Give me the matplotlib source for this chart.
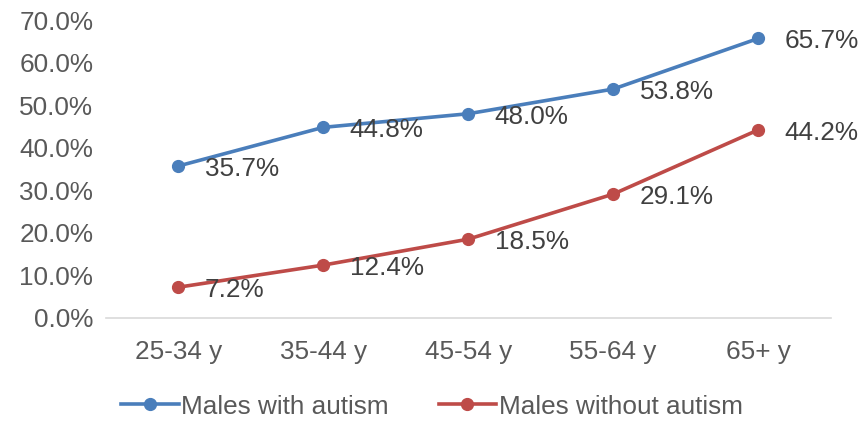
import matplotlib.pyplot as plt
from matplotlib.ticker import PercentFormatter

plt.rcParams['font.family'] = ['Liberation Sans', 'DejaVu Sans']

age_groups = ['25-34 y', '35-44 y', '45-54 y', '55-64 y', '65+ y']
with_autism = [35.7, 44.8, 48.0, 53.8, 65.7]
without_autism = [7.2, 12.4, 18.5, 29.1, 44.2]

blue = '#4A7EBB'
red = '#BE4B48'
fs = 18.8

fig = plt.figure(figsize=(8.59, 4.21), dpi=100)
ax = fig.add_axes([0.123, 0.245, 0.844, 0.707])

x = range(len(age_groups))
ax.plot(x, with_autism, color=blue, lw=2.6, marker='o', ms=8.5,
        label='Males with autism')
ax.plot(x, without_autism, color=red, lw=2.6, marker='o', ms=8.5,
        label='Males without autism')

# data labels to the right of each point
for vals in [with_autism, without_autism]:
    for i, v in zip(x, vals):
        ax.annotate(f'{v:.1f}%', (i, v), xytext=(19, -2), textcoords='offset points',
                    ha='left', va='center', fontsize=fs, color='#404040')

ax.set_xlim(-0.5, 4.5)
ax.set_ylim(0, 70)
ax.set_yticks(range(0, 71, 10))
ax.yaxis.set_major_formatter(PercentFormatter(decimals=1))
ax.set_xticks(list(x))
ax.set_xticklabels(age_groups)
ax.tick_params(axis='both', length=0, labelsize=fs, labelcolor='#595959')
ax.tick_params(axis='x', pad=16)
ax.tick_params(axis='y', pad=9)

for s in ['top', 'right', 'left']:
    ax.spines[s].set_visible(False)
ax.spines['bottom'].set_color('#D9D9D9')
ax.spines['bottom'].set_linewidth(1.2)

fig.legend(loc='lower center', bbox_to_anchor=(0.503, -0.05), ncol=2, frameon=False,
           fontsize=fs, labelcolor='#595959', handlelength=2.2, handletextpad=0.1,
           columnspacing=1.9)

fig.savefig('out.png', dpi=100)
